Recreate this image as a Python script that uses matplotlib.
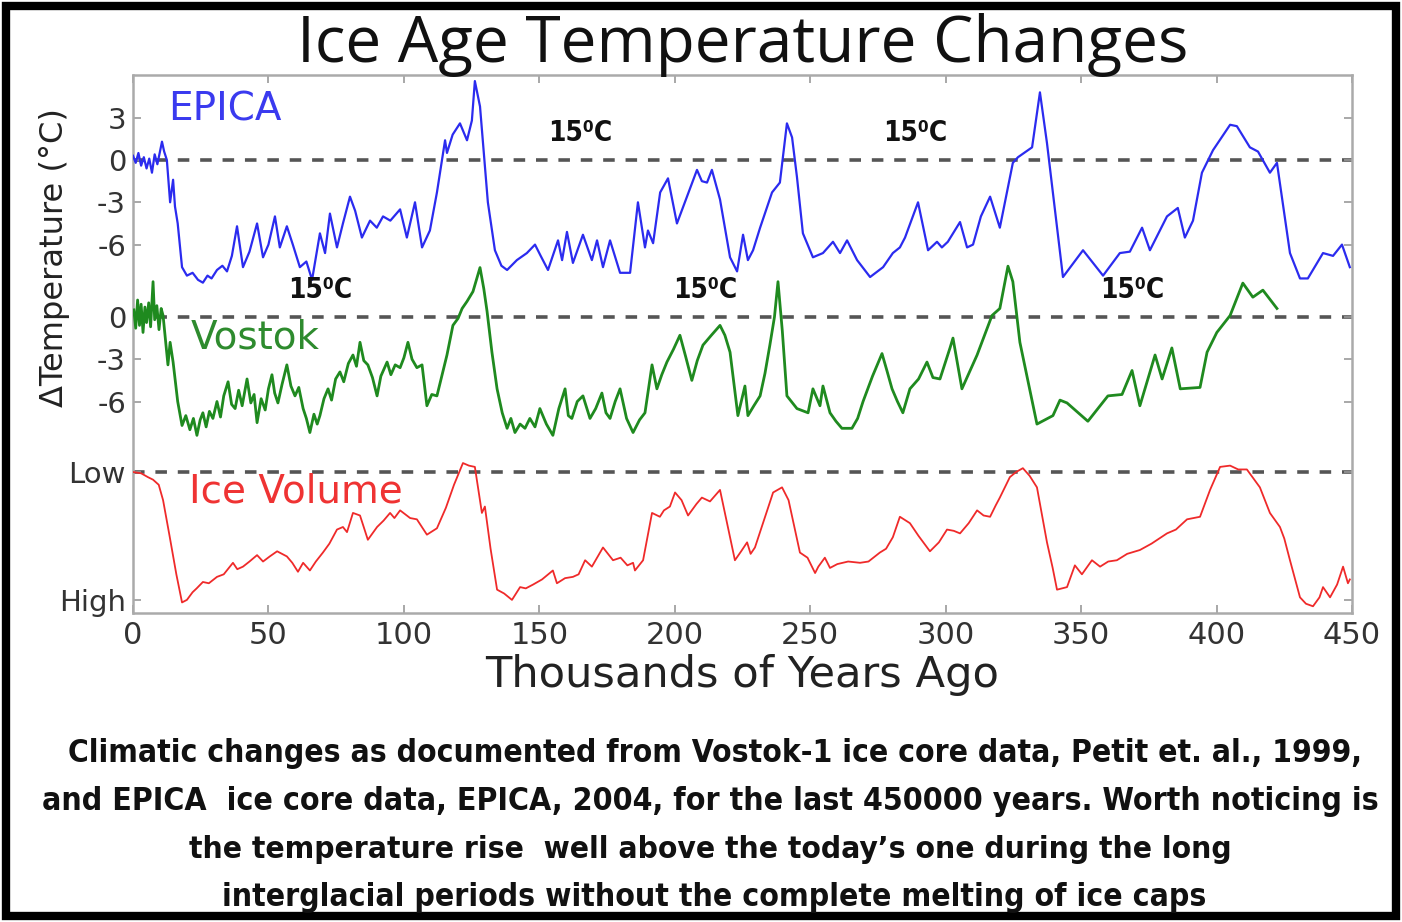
import matplotlib
matplotlib.use("Agg")
import matplotlib.pyplot as plt
from matplotlib import font_manager
from matplotlib.font_manager import FontProperties
from matplotlib.patches import Rectangle
import numpy as np

# ---------------- data ----------------
epica_age = [0, 1, 2, 3, 4, 5, 6, 7, 8, 9, 10.7, 11.5, 12.5, 13.7, 14.8, 15.5, 16.5, 18.1, 19.9, 22, 24,
             25.8, 27.5, 29, 31, 33, 34.7, 36.5, 38.4, 40.6, 43, 45.8, 48, 50, 52.4, 54.2, 56.8, 59, 61.6,
             64, 66.1, 69, 70.9, 72.7, 75.3, 77.5, 80.1, 82, 84.5, 87.5, 90, 92.3, 95, 98.6, 101.1, 104.1,
             106.7, 109.6, 112.2, 115.2, 115.9, 118, 120.7, 123.3, 125.1, 126.2, 128.1, 131, 133.6, 136,
             138.1, 141.7, 145.4, 148.4, 150.5, 153.2, 156.9, 158.4, 160.2, 162.4, 166.1, 169.4, 171.3,
             173.5, 176.1, 179.8, 183.5, 186.4, 189, 190.1, 192, 194.6, 197.5, 200.8, 204.5, 208.2, 210,
             211.9, 213.7, 216.7, 220.4, 223, 225.2, 227, 228.9, 231.5, 235.9, 238.8, 241.4, 243.3, 245.1,
             247.3, 251, 254.7, 258.4, 261, 263.6, 267.3, 272.1, 276.9, 280.5, 283.1, 285, 287.9, 289.8,
             293.5, 296.8, 298.6, 300.8, 305.3, 307.9, 310.1, 313, 316.4, 320, 324.8, 326.7, 331.9, 334.8,
             337.4, 343.3, 350.7, 358.1, 364.3, 368, 372.5, 375.4, 381.7, 385.7, 388.3, 391.3, 394.6, 398.7,
             405, 407.5, 412.3, 415.3, 419.7, 422.3, 427.1, 430.8, 433.7, 439.3, 443, 446.3, 449.2]
epica_temp = [0.3, -0.2, 0.5, -0.4, 0.2, -0.6, 0.1, -0.9, 0.4, -0.3, 1.3, 0.6, 0.0, -3.0, -1.4, -3.3, -4.5,
              -7.6, -8.2, -8.0, -8.5, -8.7, -8.2, -8.4, -7.8, -7.5, -7.9, -6.8, -4.7, -7.6, -6.5, -4.5, -6.9,
              -6.0, -4.0, -6.2, -4.7, -6.0, -7.6, -7.2, -8.5, -5.2, -6.6, -3.8, -6.2, -4.5, -2.6, -3.6, -5.5,
              -4.3, -4.8, -4.0, -4.3, -3.5, -5.5, -3.0, -6.2, -5.0, -2.3, 1.4, 0.5, 1.8, 2.6, 1.4, 2.8, 5.6,
              3.8, -3.0, -6.4, -7.5, -7.8, -7.1, -6.6, -6.0, -6.8, -7.8, -5.7, -7.1, -5.1, -7.3, -5.3, -7.1,
              -5.7, -7.6, -5.7, -8.0, -8.0, -3.0, -6.2, -5.0, -5.9, -2.3, -1.3, -4.5, -2.6, -0.7, -1.5, -1.6,
              -0.7, -2.8, -6.9, -7.9, -5.3, -7.1, -6.4, -4.8, -2.3, -1.6, 2.6, 1.6, -1.2, -5.2, -6.9, -6.6,
              -5.8, -6.6, -5.7, -7.1, -8.3, -7.6, -6.6, -6.2, -5.5, -4.0, -3.0, -6.4, -5.8, -6.2, -5.8, -4.4,
              -6.2, -6.0, -4.0, -2.6, -4.8, -0.2, 0.2, 0.9, 4.8, 1.2, -8.3, -6.4, -8.2, -6.6, -6.5, -4.8,
              -6.4, -4.0, -3.4, -5.5, -4.3, -0.9, 0.7, 2.5, 2.4, 0.9, 0.6, -0.9, -0.2, -6.6, -8.4, -8.4,
              -6.6, -6.8, -6.0, -7.6]

vostok_age = [0.3, 1, 1.7, 2.4, 3, 3.7, 4.4, 5, 5.8, 6.5, 7.4, 8, 8.8, 9.6, 10.4, 11.1, 12.9, 13.7, 14.8,
              16.5, 18.1, 19.5, 21, 22.3, 23.6, 24.8, 25.8, 27, 28.2, 29.5, 31, 32.3, 33.5, 35.1, 36.4,
              37.7, 39, 40.3, 42.1, 43.5, 44.7, 45.8, 47.3, 48.8, 50, 51.3, 52.3, 53.5, 55, 56.8, 58.3,
              59.8, 61.2, 62.8, 64, 65.3, 66.8, 68, 69, 70.5, 72, 73.3, 74.8, 76.4, 77.8, 79.5, 81.2, 82.5,
              83.8, 85.2, 86.7, 88.4, 90.1, 91.5, 93.8, 95.2, 96.8, 98.6, 100, 101.5, 103, 104.8, 106.7,
              108.5, 110.3, 112.2, 114, 115.9, 118.1, 120, 121.5, 123.3, 125.5, 128.1, 129.5, 130.7, 132.5,
              134.4, 136.3, 138.1, 139.5, 141, 142.9, 144.7, 146.5, 148.4, 150.2, 152.6, 155, 157.2, 159.5,
              160.7, 162, 164, 166.1, 168.7, 170.8, 173.1, 174.6, 176.1, 178, 179.8, 182.2, 184.6, 187, 189,
              191.6, 193.4, 195.2, 197.1, 199.5, 201.9, 204, 206.3, 208.3, 210.4, 213.5, 216.7, 218.5, 220.4,
              223.3, 225.9, 227, 229.2, 231.5, 233.3, 235.1, 236.8, 238.1, 239.7, 241.4, 245.1, 249.2, 251,
              253.6, 254.7, 257.3, 259.5, 261.7, 265.4, 267.5, 269.5, 273, 276.5, 278.3, 280.2, 282.2, 284.2,
              286.8, 290, 293.1, 295.3, 297.9, 301.6, 302.7, 306, 311.6, 317.1, 320, 323, 324.8, 327.4,
              333.7, 339.6, 342.2, 344.8, 352.5, 359.9, 365.1, 368.8, 371.7, 377.3, 379.9, 383.5, 386.6,
              393.9, 396.5, 400.1, 405, 409.7, 413.4, 417.1, 422.3]
vostok_temp = [0.5, -0.8, 1.2, -0.6, 0.9, -1.1, 0.7, -0.4, 1.0, -0.7, 2.5, -0.2, 0.8, -0.9, 0.6, 0.1, -3.4,
               -1.8, -3.2, -6.0, -7.7, -7.0, -8.0, -7.2, -8.4, -7.3, -6.8, -7.8, -6.7, -7.2, -6.0, -7.1,
               -5.6, -4.6, -6.2, -6.5, -5.2, -6.3, -4.4, -6.1, -5.5, -7.5, -5.8, -6.6, -5.1, -4.1, -5.4,
               -6.1, -4.8, -3.4, -4.9, -5.6, -5.0, -6.5, -7.2, -8.2, -6.9, -7.6, -7.0, -5.8, -5.1, -5.9,
               -4.4, -3.9, -4.6, -3.3, -2.7, -3.5, -1.8, -3.1, -3.4, -4.3, -5.6, -4.2, -3.2, -4.1, -3.4,
               -3.6, -2.9, -1.8, -3.0, -3.6, -3.4, -6.3, -5.5, -5.6, -4.2, -2.7, -0.6, -0.1, 0.6, 1.1, 1.8,
               3.5, 2.0, 0.4, -2.5, -5.1, -6.8, -7.9, -7.2, -8.2, -7.6, -7.9, -7.2, -7.8, -6.5, -7.6, -8.4,
               -6.5, -5.1, -7.0, -7.2, -6.0, -5.6, -7.2, -6.5, -5.4, -6.8, -7.2, -6.0, -5.1, -7.2, -8.2,
               -7.3, -6.8, -3.4, -5.1, -4.1, -3.2, -2.3, -1.3, -2.8, -4.5, -3.1, -2.0, -1.3, -0.6, -1.3,
               -2.5, -7.0, -4.9, -7.0, -6.3, -5.6, -4.0, -2.0, 0.0, 2.5, -1.0, -5.6, -6.5, -6.8, -5.1, -6.3,
               -4.9, -6.8, -7.4, -7.9, -7.9, -7.2, -6.0, -4.2, -2.6, -3.8, -5.1, -6.0, -6.8, -5.1, -4.4,
               -3.2, -4.3, -4.4, -2.2, -1.5, -5.1, -2.7, 0.1, 0.6, 3.6, 2.5, -1.8, -7.6, -7.0, -5.9, -6.1,
               -7.4, -5.6, -5.5, -3.8, -6.3, -2.7, -4.4, -2.2, -5.1, -5.0, -2.5, -1.1, 0.1, 2.4, 1.4, 1.9,
               0.6]

# ice volume on a 0 (High) .. 1 (Low) scale
ice_age = [0, 3, 5.5, 7.4, 9.5, 11.1, 13.5, 16, 18.1, 19.9, 22, 23.5, 25.8, 28, 31, 33.5, 36.9, 38.5, 40.6,
           43, 45.8, 48, 50.5, 53.2, 56.8, 58.8, 60.9, 62.8, 65.3, 67.5, 70.1, 72.5, 75.3, 77.5, 79, 81.2,
           83.8, 86.7, 90.1, 92.5, 94.9, 96.5, 98.6, 102.3, 104.8, 108.5, 112.2, 115.5, 118.5, 121.8, 124,
           126.2, 128.8, 129.9, 132, 134.4, 137, 139.9, 142.9, 145, 147.7, 151, 155, 156.5, 159.5, 162.4,
           164.5, 166.9, 169.4, 173.5, 177.2, 180, 182.5, 184.6, 185.3, 188.3, 191.6, 194.5, 196, 198.2,
           200.1, 202.5, 204.9, 208, 210, 213, 216.7, 222.2, 224.5, 226.7, 228, 229.6, 236.3, 239.6, 242,
           246.2, 249, 251.8, 253, 255.4, 257.3, 260, 264, 268.4, 271.5, 275.7, 278, 280.5, 283.1, 286.8,
           290, 294.2, 297.5, 300.5, 303, 305.3, 308.5, 311.6, 314, 316.4, 318.5, 320, 323.7, 326, 328.5,
           331, 333.7, 337.4, 339.5, 341.1, 344.8, 347.7, 350.3, 354, 357, 360, 363.2, 367, 371.7, 376,
           381.7, 385, 389.1, 393.9, 397.6, 401.3, 405, 408, 411.2, 416, 419.7, 423.4, 425, 427.1, 430.8,
           433, 435.6, 438, 439.3, 441.9, 444.5, 446.7, 448.5, 449.2]
ice_level = [1.0, 0.99, 0.96, 0.94, 0.9, 0.78, 0.5, 0.2, -0.02, 0.0, 0.06, 0.09, 0.14, 0.13, 0.18, 0.2,
             0.29, 0.24, 0.26, 0.3, 0.35, 0.3, 0.34, 0.38, 0.34, 0.29, 0.22, 0.29, 0.23, 0.3, 0.37, 0.44,
             0.55, 0.57, 0.53, 0.68, 0.66, 0.47, 0.57, 0.62, 0.68, 0.64, 0.7, 0.64, 0.63, 0.51, 0.56, 0.72,
             0.9, 1.07, 1.05, 1.04, 0.68, 0.73, 0.4, 0.08, 0.05, 0.0, 0.1, 0.09, 0.12, 0.16, 0.23, 0.13,
             0.17, 0.18, 0.2, 0.31, 0.26, 0.41, 0.31, 0.33, 0.27, 0.29, 0.23, 0.31, 0.68, 0.65, 0.7, 0.73,
             0.84, 0.78, 0.66, 0.75, 0.8, 0.77, 0.86, 0.31, 0.38, 0.45, 0.36, 0.41, 0.84, 0.88, 0.78, 0.37,
             0.33, 0.21, 0.26, 0.33, 0.25, 0.28, 0.3, 0.29, 0.3, 0.37, 0.4, 0.49, 0.65, 0.6, 0.5, 0.38,
             0.45, 0.55, 0.54, 0.52, 0.6, 0.7, 0.66, 0.65, 0.74, 0.8, 0.96, 1.0, 1.03, 0.97, 0.88, 0.45,
             0.25, 0.08, 0.1, 0.27, 0.2, 0.31, 0.26, 0.3, 0.31, 0.36, 0.39, 0.44, 0.52, 0.55, 0.63, 0.65,
             0.86, 1.04, 1.05, 1.02, 1.02, 0.88, 0.68, 0.57, 0.48, 0.31, 0.02, -0.03, -0.05, 0.02, 0.1,
             0.02, 0.12, 0.26, 0.13, 0.16]

x_ticks = [0, 50, 100, 150, 200, 250, 300, 350, 400, 450]
epica_ticks = [3, 0, -3, -6]
vostok_ticks = [0, -3, -6]
ice_tick_labels = ["Low", "High"]
note_text = "15\u2070C"

title_text = "Ice Age Temperature Changes"
xlabel_text = "Thousands of Years Ago"
ylabel_text = "\u0394Temperature (\u00b0C)"
caption_lines = [
    "Climatic changes as documented from Vostok-1 ice core data, Petit et. al., 1999,",
    "and EPICA  ice core data, EPICA, 2004, for the last 450000 years. Worth noticing is",
    "the temperature rise  well above the today\u2019s one during the long",
    "interglacial periods without the complete melting of ice caps",
]

# ---------------- layout of the stacked panels (in EPICA degC units) ----------------
VOSTOK_SHIFT = -11.13
ICE_LOW = -22.13
ICE_HIGH = -31.2


def pick_bold_narrow():
    names = {f.name for f in font_manager.fontManager.ttflist}
    if "Liberation Sans Narrow" in names:
        return FontProperties(family="Liberation Sans Narrow", weight="bold")
    for f in font_manager.fontManager.ttflist:
        fn = f.fname.replace("-", "").lower()
        if "dejavusanscondensedbold" in fn and "oblique" not in fn:
            return FontProperties(fname=f.fname)
    return FontProperties(family="Liberation Sans", weight="bold")


def has_family(name):
    return name in {f.name for f in font_manager.fontManager.ttflist}


bold_narrow = pick_bold_narrow()
title_font = "Open Sans" if has_family("Open Sans") else "DejaVu Sans"

W, H = 1402, 922
fig = plt.figure(figsize=(W / 100, H / 100), dpi=100)
fig.patch.set_facecolor("white")

ax = fig.add_axes([133 / W, 1 - 613 / H, (1352 - 133) / W, (613 - 75) / H])
ax.set_xlim(0, 450)
ax.set_ylim(-32.13, 6.03)

dash_kw = dict(color="#555555", lw=2.6, dashes=(3.2, 3.0), zorder=1)
for yv in (0, VOSTOK_SHIFT, ICE_LOW):
    ax.axhline(yv, **dash_kw)

ax.plot(epica_age, epica_temp, color="#2b2bef", lw=1.6, zorder=3)
ax.plot(vostok_age, np.array(vostok_temp) + VOSTOK_SHIFT, color="#1f8a1f", lw=2.0, zorder=3)
ax.plot(ice_age, ICE_HIGH + np.array(ice_level) * (ICE_LOW - ICE_HIGH), color="#ef2a2a", lw=1.3, zorder=3)

yt = list(epica_ticks) + [v + VOSTOK_SHIFT for v in vostok_ticks] + [ICE_LOW, ICE_HIGH]
ylabels = [str(v) for v in epica_ticks] + [str(v) for v in vostok_ticks] + ice_tick_labels
ax.set_yticks(yt)
ax.set_yticklabels(ylabels)
ax.set_xticks(x_ticks)
ax.set_xticklabels([str(v) for v in x_ticks])

ax.tick_params(axis="both", direction="in", length=6, width=1.2, color="#999999",
               labelcolor="#333333", top=True, right=True)
ax.tick_params(axis="y", labelsize=21, pad=5)
ax.tick_params(axis="x", labelsize=22, pad=6)
for s in ax.spines.values():
    s.set_color("#aaaaaa")
    s.set_linewidth(1.8)

# series labels
ax.text(34, 3.55, "EPICA", color="#3a3aef", fontsize=28, ha="center", va="center")
ax.text(45, -12.6, "Vostok", color="#2e8b2e", fontsize=28, ha="center", va="center")
ax.text(60.2, -23.5, "Ice Volume", color="#ef3333", fontsize=28, ha="center", va="center")

# 15 degC annotations
for (xx, yy) in [(165, 1.9), (288.7, 1.9), (69, -9.2), (211.1, -9.2), (368.8, -9.2)]:
    t = ax.text(xx, yy, note_text, ha="center", va="center", color="#111111",
                fontproperties=bold_narrow)
    t.set_fontsize(20)

# axis labels
xl = fig.text(742 / W, 1 - 687 / H, xlabel_text, fontsize=26, color="#222222", ha="center",
              va="baseline")
yl = fig.text(55 / W, 1 - 258 / H, ylabel_text, fontsize=23, color="#222222", ha="center", va="center",
              rotation=90)

# title
tt = fig.text(743 / W, 1 - 62 / H, title_text, fontsize=46, family=title_font, color="#111111",
              ha="center", va="baseline")

# caption
cap_base = [762, 810, 858, 906]
cap_x = [715, 710, 710, 714]
cap_w = [1294, 1336, 1040, 985]
caps = []
for line, yy, xx in zip(caption_lines, cap_base, cap_x):
    t = fig.text(xx / W, 1 - yy / H, line, color="#111111", ha="center", va="baseline",
                 fontproperties=bold_narrow)
    t.set_fontsize(28)
    caps.append(t)

# scale texts so their widths match the reference
renderer = fig.canvas.get_renderer()


def fit_width(t, target):
    bb = t.get_window_extent(renderer)
    t.set_fontsize(t.get_fontsize() * target / bb.width)


def fit_height(t, target):
    bb = t.get_window_extent(renderer)
    t.set_fontsize(t.get_fontsize() * target / bb.height)


fit_width(xl, 515)
fit_height(yl, 300)
for t, w in zip(caps, cap_w):
    fit_width(t, w)

# black frame
fig.add_artist(Rectangle((6 / W, 6 / H), (W - 12) / W, (H - 12) / H, transform=fig.transFigure,
                         fill=False, edgecolor="black", lw=6))

fig.savefig("out.png", dpi=100, facecolor="white")
